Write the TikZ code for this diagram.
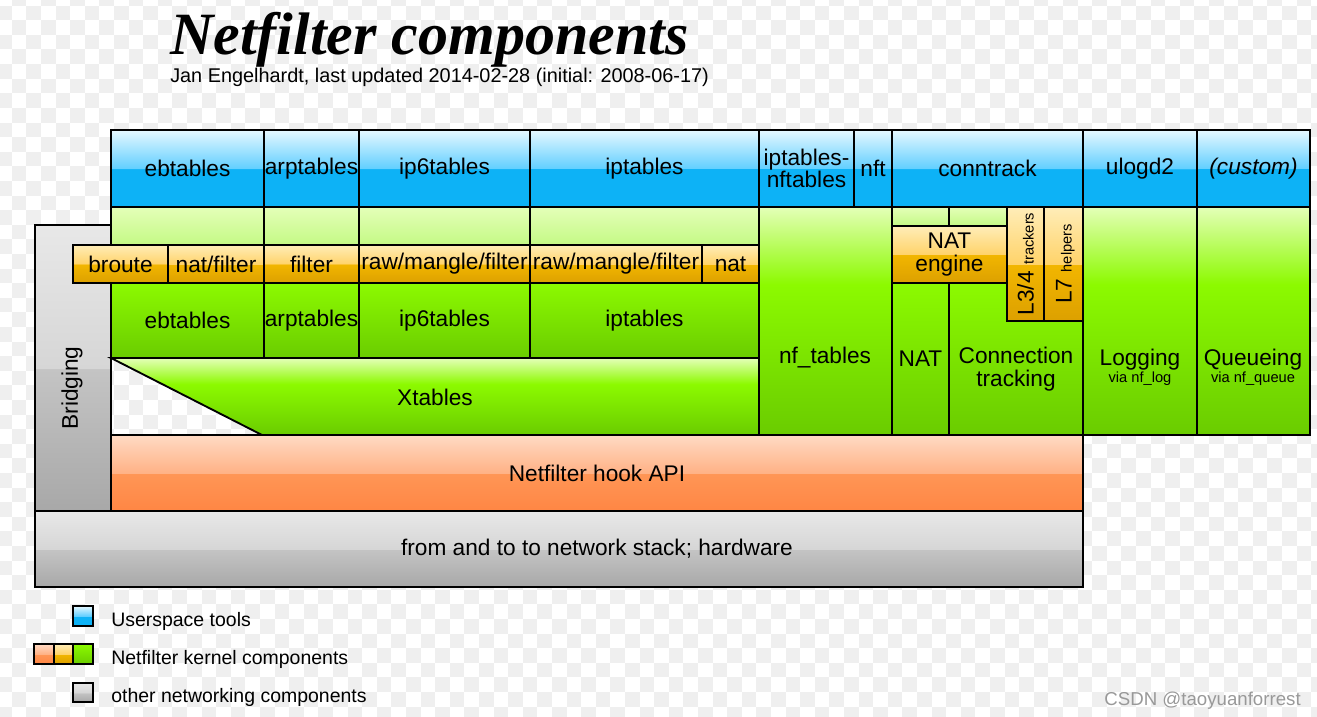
\documentclass[tikz,border=0pt]{standalone}
\usepackage{fontspec}
\setmainfont{Liberation Sans}
\newfontfamily\titlefont{Liberation Serif}
\newcommand\viafont{\fontsize{11}{12}\selectfont}
\newcommand\cellat[6]{\node[#1,anchor=north west,minimum width={(#4-#2)*0.75pt},minimum height={(#5-#3)*0.75pt}] (#6) at (#2,#3)}
\definecolor{bluelo}{HTML}{0DB2F6}
\definecolor{bluemid}{HTML}{62CFFF}
\definecolor{bluehi}{HTML}{E6F8FF}
\definecolor{orlo}{HTML}{DCA000}
\definecolor{ormid}{HTML}{F2B600}
\definecolor{orup}{HTML}{FFD36A}
\definecolor{orhi}{HTML}{FFEDB8}
\definecolor{hklo}{HTML}{FF8644}
\definecolor{hkmid}{HTML}{FF9656}
\definecolor{hkup}{HTML}{FFB286}
\definecolor{hkhi}{HTML}{FFDAC4}
\definecolor{grlo}{HTML}{A8A8A8}
\definecolor{grmid}{HTML}{C4C4C4}
\definecolor{grup}{HTML}{D6D6D6}
\definecolor{grhi}{HTML}{E8E8E8}
\definecolor{gnpale}{HTML}{E4FFB8}
\definecolor{gnband}{HTML}{C4F985}
\definecolor{gnbright}{HTML}{8CFA00}
\definecolor{gnlo}{HTML}{6ACC00}
\definecolor{checker}{HTML}{EFEFEF}
\pgfdeclareverticalshading{bluegloss}{100bp}{color(0bp)=(bluelo); color(25bp)=(bluelo); color(49.8bp)=(bluelo); color(50bp)=(bluemid); color(75bp)=(bluehi); color(100bp)=(bluehi)}
\pgfdeclareverticalshading{orangegloss}{100bp}{color(0bp)=(orlo); color(25bp)=(orlo); color(49.8bp)=(ormid); color(50bp)=(orup); color(75bp)=(orhi); color(100bp)=(orhi)}
\pgfdeclareverticalshading{hookgloss}{100bp}{color(0bp)=(hklo); color(25bp)=(hklo); color(49.8bp)=(hkmid); color(50bp)=(hkup); color(75bp)=(hkhi); color(100bp)=(hkhi)}
\pgfdeclareverticalshading{graygloss}{100bp}{color(0bp)=(grlo); color(25bp)=(grlo); color(49.8bp)=(grmid); color(50bp)=(grup); color(75bp)=(grhi); color(100bp)=(grhi)}
\pgfdeclareverticalshading{greentall}{100bp}{color(0bp)=(gnlo); color(25bp)=(gnlo); color(58bp)=(gnbright); color(75bp)=(gnpale); color(100bp)=(gnpale)}

\begin{document}
\begin{tikzpicture}[x=0.75pt,y=-0.75pt,font=\fontsize{17}{16.8}\selectfont,
cell/.style={draw,line width=1.4pt,inner sep=0pt,outer sep=0pt,align=center},
tool/.style={cell,shade,shading=bluegloss},
tbl/.style={cell,shade,shading=orangegloss},
hook/.style={cell,shade,shading=hookgloss},
other/.style={cell,shade,shading=graygloss},
band/.style={cell,top color=gnpale,bottom color=gnband},
core/.style={cell,top color=gnbright,bottom color=gnlo},
tall/.style={cell,shade,shading=greentall},
vert/.style={rotate=90,inner sep=0pt,text height=12.2pt,text depth=0pt},
key/.style={anchor=base west,inner sep=0pt,font=\fontsize{14.6}{16}\selectfont}]
\useasboundingbox (0,0) rectangle (1317,717);
\begin{scope}
\clip (0,0) rectangle (1317,717);
\foreach \i in {0,2,...,90}
  \foreach \j in {0,2,...,50} {
    \fill[checker] ({-2.9+14.6*(\i+1)},{-8.9+14.6*\j}) rectangle +(14.6,14.6);
    \fill[checker] ({-2.9+14.6*\i},{-8.9+14.6*(\j+1)}) rectangle +(14.6,14.6);
  }
\end{scope}
\node[anchor=base west,inner sep=0pt,font=\titlefont\bfseries\itshape\fontsize{45}{50}\selectfont] (title) at (170,55) {Netfilter components};
\node[anchor=base west,inner sep=0pt,font=\fontsize{14.9}{16}\selectfont] (sub) at (170,83) {Jan Engelhardt, last updated 2014-02-28 (initial: 2008-06-17)};
\cellat{other}{35}{225}{111}{511}{brg} {};
\node[rotate=90] (brgL) at (72,388) {Bridging};
\cellat{hook}{111}{435}{1083}{511}{hookapi} {Netfilter hook API};
\cellat{other}{35}{511}{1083}{587}{stack} {};
\node (stackL) at (597,549) {from and to to network stack; hardware};
\cellat{tool}{111}{130}{264}{207}{ebU} {ebtables};
\cellat{tool}{264}{130}{359}{207}{arpU} {arptables};
\cellat{tool}{359}{130}{530}{207}{ip6U} {ip6tables};
\cellat{tool}{530}{130}{759}{207}{ipU} {iptables};
\cellat{tool}{759}{130}{854}{207}{ipnfU} {iptables-\\nftables};
\cellat{tool}{854}{130}{892}{207}{nftU} {nft};
\cellat{tool}{892}{130}{1083}{207}{ctU} {conntrack};
\cellat{tool}{1083}{130}{1197}{207}{ulogU} {ulogd2};
\cellat{tool}{1197}{130}{1310}{207}{custU} {\itshape (custom)};
\cellat{band}{111}{207}{264}{245}{ebB} {};
\cellat{band}{264}{207}{359}{245}{arpB} {};
\cellat{band}{359}{207}{530}{245}{ip6B} {};
\cellat{band}{530}{207}{759}{245}{ipB} {};
\cellat{core}{111}{283}{264}{358}{ebK} {ebtables};
\cellat{core}{264}{283}{359}{358}{arpK} {arptables};
\cellat{core}{359}{283}{530}{358}{ip6K} {ip6tables};
\cellat{core}{530}{283}{759}{358}{ipK} {iptables};
\draw[line width=1.4pt,shade,shading=greentall] (111,358) -- (759,358) -- (759,435) -- (262,435) -- cycle;
\node (xtL) at (435,397) {Xtables};
\cellat{tbl}{73}{245}{168}{283}{broute} {broute};
\cellat{tbl}{168}{245}{264}{283}{natflt} {nat/filter};
\cellat{tbl}{264}{245}{359}{283}{arpflt} {filter};
\cellat{tbl}{359}{245}{530}{283}{ip6tab} {raw/mangle/filter};
\cellat{tbl}{530}{245}{702}{283}{iptab} {raw/mangle/filter};
\cellat{tbl}{702}{245}{759}{283}{iptnat} {nat};
\cellat{tall}{759}{207}{892}{435}{nftab} {};
\node (nftabL) at (825,358) {nf\_tables};
\cellat{band}{892}{207}{949}{226}{ctA} {};
\cellat{band}{949}{207}{1007}{226}{ctB} {};
\cellat{tbl}{892}{226}{1007}{283}{natEng} {NAT\\engine};
\cellat{core}{892}{283}{949}{435}{nat} {NAT};
\cellat{core}{949}{283}{1083}{435}{ct} {};
\node[align=center] (ctL) at (1016,369) {Connection\\tracking};
\cellat{tbl}{1007}{207}{1044}{321}{l34} {};
\cellat{tbl}{1044}{207}{1083}{321}{l7} {};
\node[vert] (l34L) at (l34) {L3/4 {\viafont trackers}};
\node[vert] (l7L) at (l7) {L7 {\viafont helpers}};
\cellat{tall}{1083}{207}{1197}{435}{log} {};
\node[align=center] (logL) at (1140,367) {Logging\\[-4pt]{\viafont via nf\_log}};
\cellat{tall}{1197}{207}{1310}{435}{que} {};
\node[align=center] (queL) at (1253,367) {Queueing\\[-4pt]{\viafont via nf\_queue}};
\cellat{tool}{73}{606}{93}{626}{keyU} {};
\node[key] (keyUL) at (111,626) {Userspace tools};
\cellat{hook}{34}{644}{54}{664}{keyH} {};
\cellat{tbl}{54}{644}{73}{664}{keyT} {};
\cellat{core}{73}{644}{93}{664}{keyC} {};
\node[key] (keyKL) at (111,664) {Netfilter kernel components};
\cellat{other}{73}{683}{93}{702}{keyO} {};
\node[key] (keyOL) at (111,702) {other networking components};
\node[anchor=base east,inner sep=0pt,text=black!40,font=\fontsize{14}{16}\selectfont] (mark) at (1301,705) {CSDN @taoyuanforrest};
\end{tikzpicture}
\end{document}
